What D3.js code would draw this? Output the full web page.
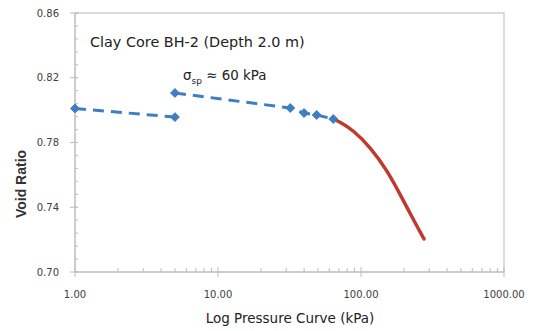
<!DOCTYPE html>
<html><head><meta charset="utf-8">
<script src="https://cdn.jsdelivr.net/npm/d3@7"></script>
<style>body{margin:0;background:#fff}svg{display:block}</style>
</head><body><svg id="c" width="534" height="331"></svg>
<script>
// Data
const xTicks = [1, 10, 100, 1000];
const xTickLabels = ["1.00", "10.00", "100.00", "1000.00"];
const yTicks = [0.70, 0.74, 0.78, 0.82, 0.86];
const yTickLabels = ["0.70", "0.74", "0.78", "0.82", "0.86"];
// Dashed (measured) segments
const seg1P = [1, 5];
const seg1E = [0.801, 0.7957];
const seg2P = [5, 32, 40, 49, 64];
const seg2E = [0.8106, 0.8013, 0.7982, 0.797, 0.7945];
// Red virgin-compression curve
const curveP = [64, 71, 88, 116, 152, 197, 239, 276];
const curveE = [0.7945, 0.7927, 0.7877, 0.7772, 0.7630, 0.7445, 0.7303, 0.7204];

const svg = d3.select("#c");
const L = 75, R = 504, T = 13, B = 272;
const x = d3.scaleLog().domain([1, 1000]).range([L, R]);
const y = d3.scaleLinear().domain([0.70, 0.86]).range([B, T]);
const axisCol = "#bdbdbd", textCol = "#404040";

// plot border (top & right)
svg.append("path").attr("d", `M${L},${T}H${R}V${B}`).attr("fill", "none").attr("stroke", "#d0d0d0").attr("stroke-width", 1.5);

// x axis
const gx = svg.append("g");
gx.append("line").attr("x1", L).attr("x2", R).attr("y1", B).attr("y2", B).attr("stroke", axisCol).attr("stroke-width", 1.5);
const minorX = [];
for (let d = 1; d < 1000; d *= 10) for (let k = 2; k <= 9; k++) minorX.push(d * k);
gx.selectAll(".mx").data(minorX).join("line").attr("x1", d => x(d)).attr("x2", d => x(d)).attr("y1", B - 4).attr("y2", B).attr("stroke", axisCol);
gx.selectAll(".Mx").data(xTicks).join("line").attr("x1", d => x(d)).attr("x2", d => x(d)).attr("y1", B - 5).attr("y2", B + 5).attr("stroke", axisCol);
gx.selectAll("text").data(xTicks).join("text").attr("x", d => x(d)).attr("y", B + 26)
  .attr("text-anchor", "middle").attr("font-family", "DejaVu Sans").attr("font-size", 10).attr("fill", textCol)
  .text((d, i) => xTickLabels[i]);

// y axis
const gy = svg.append("g");
gy.append("line").attr("x1", L).attr("x2", L).attr("y1", T).attr("y2", B).attr("stroke", axisCol).attr("stroke-width", 1.5);
const minorY = d3.range(0, 21).map(i => 0.70 + i * 0.008);
gy.selectAll(".my").data(minorY).join("line").attr("x1", L).attr("x2", L + 3).attr("y1", d => y(d)).attr("y2", d => y(d)).attr("stroke", axisCol);
gy.selectAll(".My").data(yTicks).join("line").attr("x1", L - 5).attr("x2", L + 3).attr("y1", d => y(d)).attr("y2", d => y(d)).attr("stroke", axisCol);
gy.selectAll("text").data(yTicks).join("text").attr("x", L - 16).attr("y", d => y(d) + 3.5)
  .attr("text-anchor", "end").attr("font-family", "DejaVu Sans").attr("font-size", 10).attr("fill", textCol)
  .text((d, i) => yTickLabels[i]);

// axis titles
svg.append("text").attr("x", 290).attr("y", 323).attr("text-anchor", "middle")
  .attr("font-family", "DejaVu Sans").attr("font-size", 13.5).attr("fill", "#222").text("Log Pressure Curve (kPa)");
svg.append("text").attr("transform", "translate(26,184) rotate(-90)").attr("text-anchor", "middle")
  .attr("font-family", "Liberation Sans").attr("font-size", 14).attr("font-weight", "bold").attr("fill", "#333").text("Void Ratio");

// red curve
const line = d3.line().x(d => x(d[0])).y(d => y(d[1])).curve(d3.curveBasis);
svg.append("path").datum(curveP.map((p, i) => [p, curveE[i]]))
  .attr("d", line).attr("fill", "none").attr("stroke", "#c0392f").attr("stroke-width", 3.5).attr("stroke-linecap", "round");

// dashed segments
const blue = "#3f7dc4";
const lin = d3.line().x(d => x(d[0])).y(d => y(d[1]));
[[seg1P, seg1E], [seg2P, seg2E]].forEach(([P, E]) => {
  svg.append("path").datum(P.map((p, i) => [p, E[i]])).attr("d", lin)
    .attr("fill", "none").attr("stroke", blue).attr("stroke-width", 3).attr("stroke-dasharray", "11,7");
});
const pts = seg1P.map((p, i) => [p, seg1E[i]]).concat(seg2P.map((p, i) => [p, seg2E[i]]));
svg.selectAll(".pt").data(pts).join("path")
  .attr("transform", d => `translate(${x(d[0])},${y(d[1])})`)
  .attr("d", d3.symbol(d3.symbolDiamond2, 50)).attr("fill", blue).attr("stroke", blue).attr("stroke-width", 1);

// annotations
svg.append("text").attr("x", 90).attr("y", 47).attr("font-family", "DejaVu Sans").attr("font-size", 14.4).attr("fill", "#222")
  .text("Clay Core BH-2 (Depth 2.0 m)");
const ann = svg.append("text").attr("x", 183).attr("y", 80).attr("font-family", "DejaVu Sans").attr("font-size", 13.4).attr("fill", "#222");
ann.append("tspan").text("σ");
ann.append("tspan").attr("font-size", 9).attr("dy", 4).text("sp");
ann.append("tspan").attr("dy", -4).text(" ≈ 60 kPa");
</script></body></html>
